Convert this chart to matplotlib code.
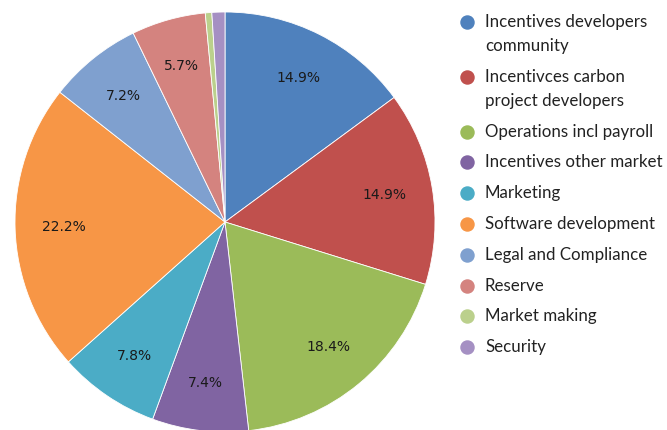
import matplotlib.pyplot as plt

# budget allocation, percent
labels = ["Incentives developers\ncommunity", "Incentivces carbon\nproject developers",
          "Operations incl payroll", "Incentives other market", "Marketing",
          "Software development", "Legal and Compliance", "Reserve",
          "Market making", "Security"]
values = [14.9, 14.9, 18.4, 7.4, 7.8, 22.2, 7.2, 5.7, 0.5, 1.0]
colors = ["#4F81BD", "#C0504D", "#9BBB59", "#8064A2", "#4BACC6",
          "#F79646", "#7FA0CF", "#D4837F", "#BBD08C", "#A590C3"]

W, H = 667, 430
fig = plt.figure(figsize=(W / 100, H / 100), dpi=100)
ax = fig.add_axes([15 / W, -2 / H, 420 / W, 420 / H])

def fmt(p):
    return f"{p:.1f}%" if p > 3 else ""

wedges, texts, autotexts = ax.pie(values, colors=colors, startangle=90, counterclock=False,
                                  autopct=fmt, pctdistance=0.77,
                                  wedgeprops=dict(edgecolor="white", linewidth=0.6),
                                  textprops=dict(fontsize=10, color="#1a1a1a"))
ax.set_xlim(-1, 1)
ax.set_ylim(-1, 1)
ax.set_aspect("equal")

# hand-made legend: circle marker + text lines, spacing like the original
y = 22
for lab, c in zip(labels, colors):
    fig.lines.append(plt.Line2D([467 / W], [1 - y / H], marker="o", markersize=9.4,
                                markerfacecolor=c, markeredgecolor=c, linestyle="",
                                transform=fig.transFigure))
    for line in lab.split("\n"):
        fig.text(485 / W, 1 - y / H, line, ha="left", va="center",
                 family="Lato", fontsize=12.2, color="#222222")
        y += 24
    y += 30.8 - 24

fig.savefig("out.png", dpi=100)
